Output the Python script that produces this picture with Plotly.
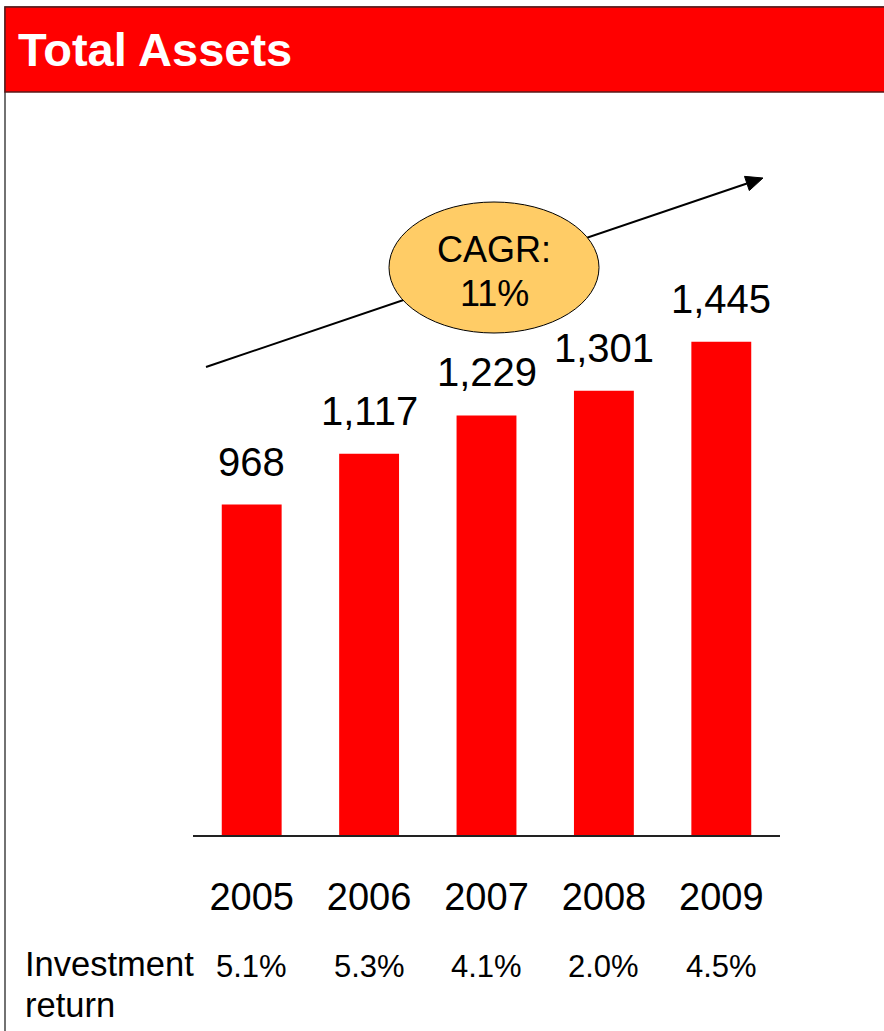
import plotly.graph_objects as go

# ---- data ----
years = ["2005", "2006", "2007", "2008", "2009"]
total_assets = [968, 1117, 1229, 1301, 1445]
asset_labels = ["968", "1,117", "1,229", "1,301", "1,445"]
investment_return = ["5.1%", "5.3%", "4.1%", "2.0%", "4.5%"]
title_text = "Total Assets"
cagr_lines = ["CAGR:", "11%"]
row_label = ["Investment", "return"]

W, H = 884, 1031
FONT = "Liberation Sans, Arial, sans-serif"
RED = "#FF0000"


def px(x):
    return x / W


def py(y):
    return 1 - y / H


fig = go.Figure()
fig.add_trace(go.Bar(
    x=years, y=total_assets, width=0.51,
    marker=dict(color=RED, line=dict(width=0)),
    hoverinfo="skip",
))

annotations = []
# value labels above bars (category index positions)
for i, (v, lab) in enumerate(zip(total_assets, asset_labels)):
    annotations.append(dict(
        x=i, y=v, xref="x", yref="y", text=lab, showarrow=False,
        yanchor="bottom", yshift=19,
        font=dict(family=FONT, size=40, color="black"),
    ))
# investment return row
for i, r in enumerate(investment_return):
    annotations.append(dict(
        x=i, y=py(966), xref="x", yref="paper", text=r, showarrow=False,
        yanchor="middle", font=dict(family=FONT, size=31, color="black"),
    ))
annotations.append(dict(
    x=px(23), y=py(964), xref="paper", yref="paper", text=row_label[0],
    showarrow=False, xanchor="left", yanchor="middle",
    font=dict(family=FONT, size=34.5, color="black"),
))
annotations.append(dict(
    x=px(23), y=py(1005), xref="paper", yref="paper", text=row_label[1],
    showarrow=False, xanchor="left", yanchor="middle",
    font=dict(family=FONT, size=34.5, color="black"),
))
# title
annotations.append(dict(
    x=px(16), y=py(49), xref="paper", yref="paper", text="<b>%s</b>" % title_text,
    showarrow=False, xanchor="left", yanchor="middle",
    font=dict(family=FONT, size=47, color="white"),
))
# CAGR bubble text
annotations.append(dict(
    x=px(494), y=py(249), xref="paper", yref="paper", text=cagr_lines[0],
    showarrow=False, xanchor="center", yanchor="middle",
    font=dict(family=FONT, size=36, color="black"),
))
annotations.append(dict(
    x=px(494), y=py(293), xref="paper", yref="paper", text=cagr_lines[1],
    showarrow=False, xanchor="center", yanchor="middle",
    font=dict(family=FONT, size=36, color="black"),
))

# arrow geometry (decoration)
x_start, y_start = 206, 367
x_tip, y_tip = 763, 178
dx, dy = x_tip - x_start, y_tip - y_start
L = (dx ** 2 + dy ** 2) ** 0.5
ux, uy = dx / L, dy / L
nx, ny = -uy, ux
head_len, head_half = 17, 7.5
bx, by = x_tip - head_len * ux, y_tip - head_len * uy
p1 = (bx + head_half * nx, by + head_half * ny)
p2 = (bx - head_half * nx, by - head_half * ny)

shapes = [
    # outer frame
    dict(type="rect", xref="paper", yref="paper", x0=px(5), x1=px(895),
         y0=py(1045), y1=py(7), line=dict(color="#444444", width=1.5),
         fillcolor="rgba(0,0,0,0)", layer="below"),
    # header band
    dict(type="rect", xref="paper", yref="paper", x0=px(5), x1=px(895),
         y0=py(92), y1=py(7), line=dict(color="#5a1a1a", width=1.5),
         fillcolor=RED, layer="below"),
    # arrow line
    dict(type="line", xref="paper", yref="paper", x0=px(x_start), y0=py(y_start),
         x1=px(bx), y1=py(by), line=dict(color="black", width=2)),
    # arrow head
    dict(type="path", xref="paper", yref="paper",
         path="M %f,%f L %f,%f L %f,%f Z" % (px(x_tip), py(y_tip), px(p1[0]), py(p1[1]),
                                           px(p2[0]), py(p2[1])),
         fillcolor="black", line=dict(color="black", width=1)),
    # CAGR ellipse
    dict(type="circle", xref="paper", yref="paper", x0=px(389), x1=px(599),
         y0=py(333), y1=py(202), fillcolor="#FFCC66", line=dict(color="black", width=1)),
]

fig.update_layout(
    width=W, height=H, autosize=False,
    margin=dict(l=0, r=0, t=0, b=0),
    paper_bgcolor="white", plot_bgcolor="white",
    showlegend=False,
    xaxis=dict(
        domain=[px(193), px(780)], range=[-0.5, 4.5], type="category",
        showline=True, linecolor="#222222", linewidth=1.5,
        showgrid=False, zeroline=False, ticks="",
        ticklabelstandoff=28,
        tickfont=dict(family=FONT, size=38, color="black"),
    ),
    yaxis=dict(
        domain=[py(835), py(100)], range=[0, 2153],
        showgrid=False, zeroline=False, showline=False,
        showticklabels=False, ticks="",
    ),
    annotations=annotations,
    shapes=shapes,
)

fig.write_html(
    "out.html",
    config={"displayModeBar": False},
    post_script="document.body.style.margin='0';document.body.style.padding='0';",
)
